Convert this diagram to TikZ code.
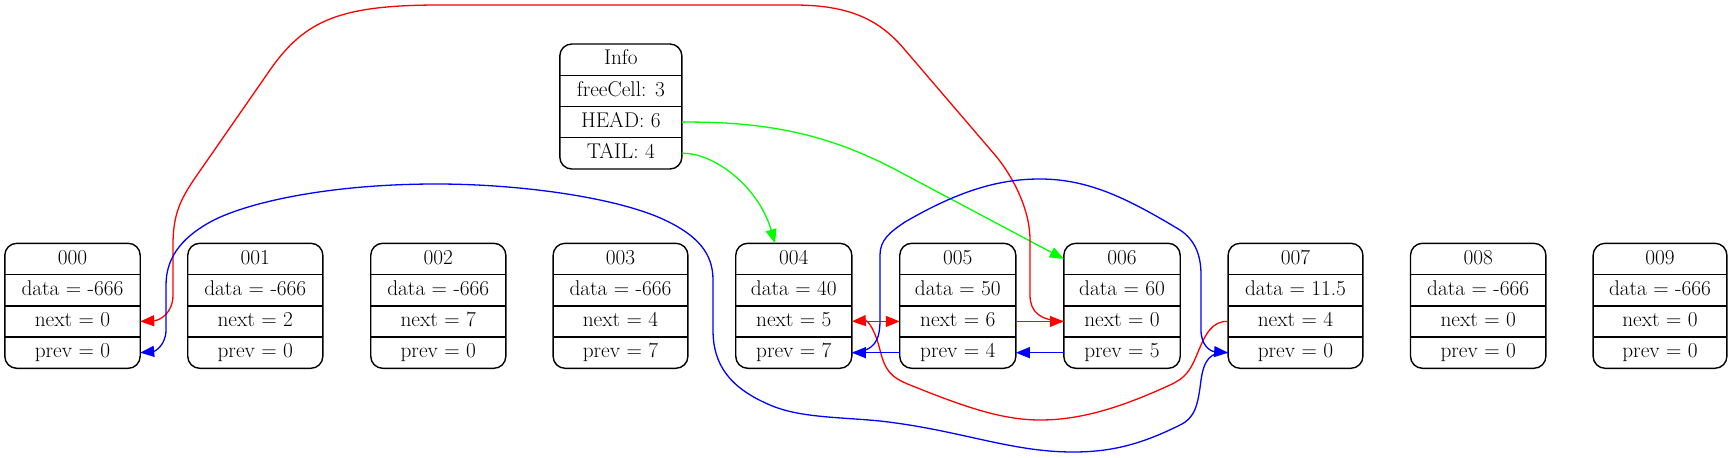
\documentclass[tikz,border=0pt]{standalone}
\usepackage{fontspec}
\usetikzlibrary{arrows.meta,positioning}
\tikzset{
  fld/.style={inner sep=0pt,minimum height=30.85pt,text height=14.8pt,text depth=4.2pt,
    font=\fontsize{21.3}{25}\selectfont},
  boxline/.style={draw=black,line width=1.4pt},
  arrowtip/.style={-{Triangle[length=14pt,width=11pt]}},
  edgered/.style={draw=red,line width=1.3pt,arrowtip},
  edgeblue/.style={draw=blue,line width=1.3pt,arrowtip},
  edgegreen/.style={draw={rgb,255:red,0;green,255;blue,0},line width=1.3pt,arrowtip},
}
\newcommand\mkrec[8]{%
  \node[fld,minimum width=#3pt,anchor=north] (#1t) at (#2,#4) {#5};
  \node[fld,minimum width=#3pt,below=0pt of #1t] (#1d) {#6};
  \node[fld,minimum width=#3pt,below=0pt of #1d] (#1n) {#7};
  \node[fld,minimum width=#3pt,below=0pt of #1n] (#1p) {#8};
  \draw[boxline,rounded corners=12pt] (#1t.north west) rectangle (#1p.south east);
  \draw[boxline] (#1d.north west) -- (#1d.north east)
                 (#1n.north west) -- (#1n.north east)
                 (#1p.north west) -- (#1p.north east);
}
\begin{document}
\begin{tikzpicture}[x=1pt,y=-1pt]
\useasboundingbox (0,0) rectangle (1733,458);
\mkrec{inf}{620.85}{121.7}{44}{Info}{freeCell: 3}{HEAD: 6}{TAIL: 4}
\mkrec{c0}{72.5}{135}{243.3}{000}{data = -666}{next = 0}{prev = 0}
\mkrec{c1}{255.3}{134.7}{243.3}{001}{data = -666}{next = 2}{prev = 0}
\mkrec{c2}{438.3}{134.7}{243.3}{002}{data = -666}{next = 7}{prev = 0}
\mkrec{c3}{620.5}{134.4}{243.3}{003}{data = -666}{next = 4}{prev = 7}
\mkrec{c4}{793.8}{115.7}{243.3}{004}{data = 40}{next = 5}{prev = 7}
\mkrec{c5}{957.8}{115.7}{243.3}{005}{data = 50}{next = 6}{prev = 4}
\mkrec{c6}{1122}{116}{243.3}{006}{data = 60}{next = 0}{prev = 5}
\mkrec{c7}{1295.5}{134.4}{243.3}{007}{data = 11.5}{next = 4}{prev = 0}
\mkrec{c8}{1478.2}{135}{243.3}{008}{data = -666}{next = 0}{prev = 0}
\mkrec{c9}{1660}{133.4}{243.3}{009}{data = -666}{next = 0}{prev = 0}
% green
\draw[edgegreen] (infn.east) .. controls (780,121) and (840,140) .. (900,172) -- (c6t.west);
\draw[edgegreen] (infp.east) .. controls (712,152) and (758,185) .. ([xshift=-18.8pt]c4t.north);
% red
\draw[edgered] (c6n.west) .. controls (1040,320.5) and (1030,312) .. (1030,295) -- (1030,240)
  .. controls (1030,205) and (1008,170) .. (995,155) -- (905,50)
  .. controls (880,20) and (850,5) .. (794,5) -- (440,5)
  .. controls (340,5) and (305,20) .. (270,70) -- (195,178)
  .. controls (180,200) and (173,215) .. (173,245) -- (173,295)
  .. controls (173,313) and (160,320.5) .. (c0n.east);
\draw[edgered] (c7n.west) .. controls (1212,320.5) and (1205,335) .. (1198,352)
  .. controls (1190,372) and (1185,378) .. (1170,385)
  .. controls (1120,408) and (1080,420) .. (1040,420)
  .. controls (1000,420) and (960,405) .. (910,385)
  .. controls (890,377) and (885,370) .. (880,350)
  .. controls (875,330) and (868,320.5) .. (c4n.east);
\draw[edgered] (c4n.east) -- (c5n.west);
\draw[edgered] (c5n.east) -- (c6n.west);
% blue
\draw[edgeblue] (c6p.west) -- (c5p.east);
\draw[edgeblue] (c5p.west) -- (c4p.east);
\draw[edgeblue] (c4p.east) .. controls (875,351.3) and (880,340) .. (880,320) -- (880,255)
  .. controls (880,240) and (890,232) .. (905,222)
  .. controls (960,190) and (1000,179) .. (1040,179)
  .. controls (1090,179) and (1130,200) .. (1180,230)
  .. controls (1195,240) and (1201,255) .. (1201,275) -- (1201,330)
  .. controls (1201,345) and (1210,351.3) .. (c7p.west);
\draw[edgeblue] (c7p.west) .. controls (1210,351.3) and (1204,360) .. (1201,380)
  .. controls (1198,405) and (1195,418) .. (1180,425)
  .. controls (1140,445) and (1110,452) .. (1073,452)
  .. controls (1010,452) and (960,430) .. (880,421)
  .. controls (840,417) and (800,418) .. (770,405)
  .. controls (730,388) and (713,365) .. (713,330) -- (713,280)
  .. controls (713,255) and (700,235) .. (658,217)
  .. controls (610,197) and (520,184) .. (436,184)
  .. controls (330,184) and (250,202) .. (214,220)
  .. controls (185,235) and (166,255) .. (166,285) -- (166,330)
  .. controls (166,345) and (155,351.3) .. (c0p.east);
\end{tikzpicture}
\end{document}
